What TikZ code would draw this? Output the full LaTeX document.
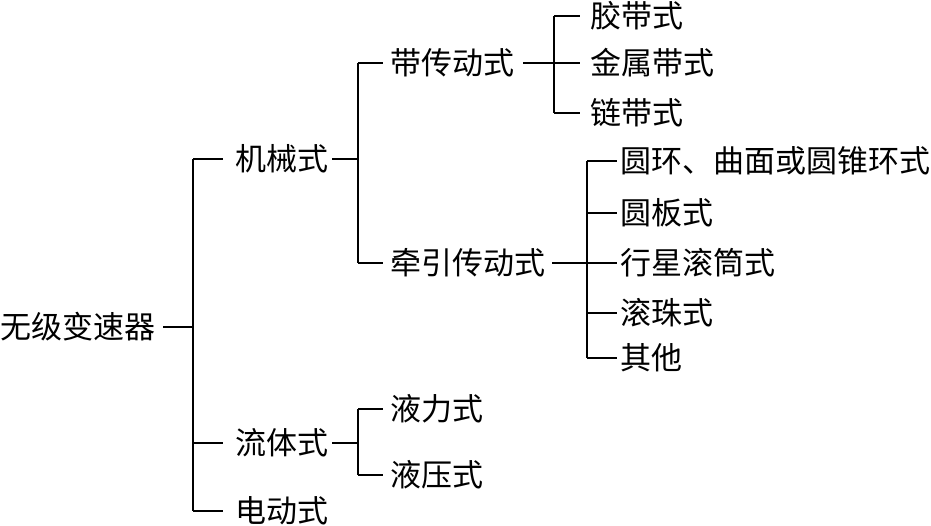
\documentclass[tikz,border=0pt]{standalone}
\usepackage{fontspec}
\setmainfont{Noto Sans CJK SC}
\begin{document}
\begin{tikzpicture}[x=1pt,y=-1pt,
  lbl/.style={anchor=west,inner sep=0pt,text height=27.3pt,text depth=3.7pt,font=\fontsize{31}{31}\selectfont},
  conn/.style={line width=1.6pt,black}]
\useasboundingbox (0,0) rectangle (931,525);
% nodes
\node[lbl] (root) at (0,327) {无级变速器};
\node[lbl] (m) at (235,159) {机械式};
\node[lbl] (f) at (235,443) {流体式};
\node[lbl] (e) at (235,511) {电动式};
\node[lbl] (b) at (390,63) {带传动式};
\node[lbl] (t) at (390,263) {牵引传动式};
\node[lbl] (b1) at (590,16) {胶带式};
\node[lbl] (b2) at (590,63) {金属带式};
\node[lbl] (b3) at (590,113) {链带式};
\node[lbl] (t1) at (620,161) {圆环、曲面或圆锥环式};
\node[lbl] (t2) at (620,213) {圆板式};
\node[lbl] (t3) at (620,263) {行星滚筒式};
\node[lbl] (t4) at (620,313) {滚珠式};
\node[lbl] (t5) at (620,358) {其他};
\node[lbl] (h1) at (390,409) {液力式};
\node[lbl] (h2) at (390,475) {液压式};
% junction columns
\coordinate (j0) at (193,0);
\coordinate (j1) at (358,0);
\coordinate (j2) at (554,0);
\coordinate (j3) at (587,0);
% root level
\draw[conn] ([xshift=8pt]root.east) -- (j0 |- root.east);
\draw[conn] (j0 |- m.west) -- (j0 |- e.west);
\draw[conn] (j0 |- m.west) -- ([xshift=-12pt]m.west);
\draw[conn] (j0 |- f.west) -- ([xshift=-12pt]f.west);
\draw[conn] (j0 |- e.west) -- ([xshift=-12pt]e.west);
% mechanical
\draw[conn] ([xshift=4pt]m.east) -- (j1 |- m.east);
\draw[conn] (j1 |- b.west) -- (j1 |- t.west);
\draw[conn] (j1 |- b.west) -- ([xshift=-7pt]b.west);
\draw[conn] (j1 |- t.west) -- ([xshift=-7pt]t.west);
% belt
\draw[conn] ([xshift=9pt]b.east) -- ([xshift=-10pt]b2.west);
\draw[conn] (j2 |- b1.west) -- (j2 |- b3.west);
\draw[conn] (j2 |- b1.west) -- ([xshift=-10pt]b1.west);
\draw[conn] (j2 |- b3.west) -- ([xshift=-10pt]b3.west);
% traction
\draw[conn] ([xshift=7pt]t.east) -- ([xshift=-3pt]t3.west);
\draw[conn] (j3 |- t1.west) -- (j3 |- t5.west);
\draw[conn] (j3 |- t1.west) -- ([xshift=-3pt]t1.west);
\draw[conn] (j3 |- t2.west) -- ([xshift=-3pt]t2.west);
\draw[conn] (j3 |- t4.west) -- ([xshift=-3pt]t4.west);
\draw[conn] (j3 |- t5.west) -- ([xshift=-3pt]t5.west);
% fluid
\draw[conn] ([xshift=4pt]f.east) -- (j1 |- f.east);
\draw[conn] (j1 |- h1.west) -- (j1 |- h2.west);
\draw[conn] (j1 |- h1.west) -- ([xshift=-7pt]h1.west);
\draw[conn] (j1 |- h2.west) -- ([xshift=-7pt]h2.west);
\end{tikzpicture}
\end{document}
